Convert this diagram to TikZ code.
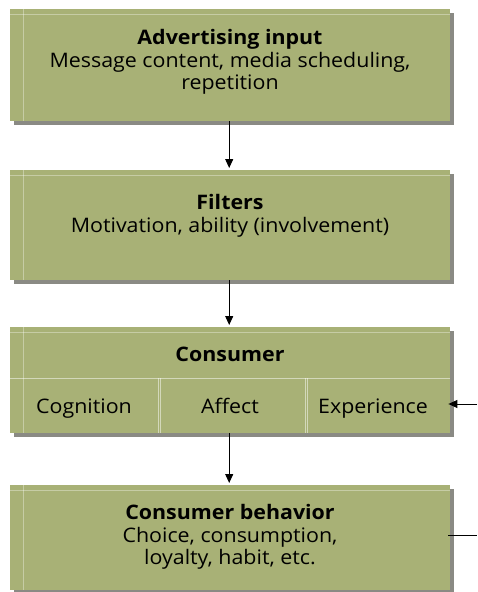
\documentclass[tikz,border=0pt]{standalone}
\usepackage{fontspec}
\setmainfont{Open Sans}[FakeStretch=1.07]
\usetikzlibrary{arrows.meta,shadows}
\definecolor{boxfill}{RGB}{168,177,118}
\definecolor{shade}{RGB}{100,100,92}
\tikzset{
  box/.style={draw=none, fill=boxfill, minimum width=440pt, anchor=north west, inner sep=0pt,
    drop shadow={shadow xshift=4pt, shadow yshift=-4pt, fill=shade, opacity=0.75}},
  cell/.style={draw=none, minimum height=55pt, inner sep=0pt, anchor=north west},
  txt/.style={font=\fontsize{20}{22.5}\selectfont, align=center, text=black},
  hl/.style={draw=white, opacity=0.35, line width=1pt},
  arr/.style={-{Triangle[length=9pt,width=8pt]}, line width=1pt, black},
  ln/.style={line width=1pt, black}
}
\begin{document}
\begin{tikzpicture}[x=1pt,y=-1pt]
\useasboundingbox[fill=white] (0,0) rectangle (477,592);
% boxes
\node[box, minimum height=112pt] (b1) at (10,9) {};
\node[box, minimum height=110pt] (b2) at (10,170) {};
\node[box, minimum height=106pt] (b3) at (10,327) {};
\node[box, minimum height=105pt] (b4) at (10,485) {};
% decorative light lines
\foreach \b in {b1,b2,b3,b4}{
  \draw[hl] ([xshift=13pt]\b.north west) -- ([xshift=13pt]\b.south west);
  \draw[hl] ([yshift=-5pt]\b.north west) -- ([yshift=-5pt]\b.north east);
}
% texts
\node[txt] (t1) at (230,62) {\textbf{Advertising input}\\Message content, media scheduling,\\repetition};
\node[txt] (t2) at (230,216) {\textbf{Filters}\\Motivation, ability (involvement)};
\node[txt, anchor=base] (t3) at (230,361) {\textbf{Consumer}};
\node[cell, minimum width=148pt] (cog) at (10,378) {};
\node[cell, minimum width=147pt] (aff) at (158,378) {};
\node[cell, minimum width=145pt] (exp) at (305,378) {};
\node[txt, anchor=base] (tcog) at (84,413) {Cognition};
\node[txt, anchor=base] (taff) at (230,413) {Affect};
\node[txt, anchor=base] (texp) at (373,413) {Experience};
\draw[hl, opacity=0.5] (cog.north west) -- (exp.north east);
\draw[hl, opacity=0.5] (aff.north west) -- (aff.south west);
\draw[hl, opacity=0.5] ([xshift=2pt]aff.north west) -- ([xshift=2pt]aff.south west);
\draw[hl, opacity=0.5] (exp.north west) -- (exp.south west);
\draw[hl, opacity=0.5] ([xshift=2pt]exp.north west) -- ([xshift=2pt]exp.south west);
\node[txt] (t4) at (230,537) {\textbf{Consumer behavior}\\Choice, consumption,\\loyalty, habit, etc.};
% connectors
\draw[arr] ([xshift=-1pt]b1.south) -- ([xshift=-1pt,yshift=2pt]b2.north);
\draw[arr] ([xshift=-1pt]b2.south) -- ([xshift=-1pt,yshift=2pt]b3.north);
\draw[arr] ([xshift=-1pt]b3.south) -- ([xshift=-1pt,yshift=2pt]b4.north);
\coordinate (fin) at (477,404);
\coordinate (fout) at (477,535);
\draw[arr] (fin) -- ([xshift=-2pt]exp.east |- fin);
\draw[ln] ([xshift=-2pt]b4.east |- fout) -- (fout);
\end{tikzpicture}
\end{document}
